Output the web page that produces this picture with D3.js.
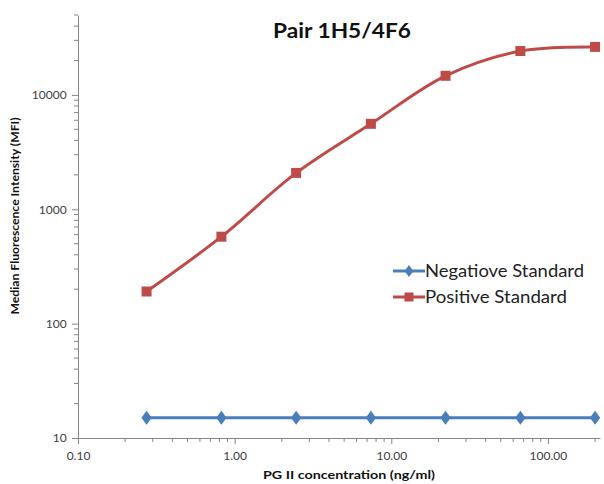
<!DOCTYPE html>
<html><head><meta charset="utf-8">
<script src="https://cdn.jsdelivr.net/npm/d3@7"></script>
<style>body{margin:0;background:#fff}svg{display:block}</style>
</head><body><svg id="c" width="604" height="484"></svg>
<script>
const concentrations = [0.274, 0.823, 2.47, 7.41, 22.2, 66.7, 200];
const negativeStd = [15, 15, 15, 15, 15, 15, 15];
const positiveStd = [191, 576, 2080, 5590, 14700, 24200, 26300];
const seriesNames = ["Negatiove Standard", "Positive Standard"];
const xTickValues = [0.1, 1, 10, 100];
const yTickValues = [10, 100, 1000, 10000];
const title = "Pair 1H5/4F6";
const xLabel = "PG II concentration (ng/ml)";
const yLabel = "Median Fluorescence Intensity (MFI)";

const FONT = "Lato, 'Open Sans', sans-serif";
const svg = d3.select("#c");
const L = 78, R = 600, T = 15, B = 438;
const x = d3.scaleLog().domain([0.1, 215]).range([L, R]);
const y = d3.scaleLog().domain([10, 50000]).range([B, T]);
const axisCol = "#868686", txtCol = "#404040";
const blue = "#4a7ebb", red = "#be4b48";

const xMinor = [], yMinor = [];
[0.1, 1, 10, 100].forEach(d => { for (let k = 2; k <= 9; k++) if (d * k <= 215) xMinor.push(d * k); });
[10, 100, 1000, 10000].forEach(d => { for (let k = 2; k <= 9; k++) if (d * k <= 50000) yMinor.push(d * k); });

const gx = svg.append("g").attr("transform", `translate(0,${B})`);
gx.call(d3.axisBottom(x).tickValues(xTickValues).tickFormat(d3.format(".2f")).tickSize(6).tickSizeOuter(0));
gx.append("g").selectAll("line").data(xMinor).join("line")
  .attr("x1", d => x(d)).attr("x2", d => x(d)).attr("y1", 0).attr("y2", 4).attr("stroke", axisCol);
gx.select(".domain").attr("stroke", axisCol);
gx.selectAll(".tick line").attr("stroke", axisCol);
gx.selectAll(".tick text").attr("fill", txtCol).attr("font-family", FONT).attr("font-size", 12).attr("dy", "1.1em");

const gy = svg.append("g").attr("transform", `translate(${L},0)`);
gy.call(d3.axisLeft(y).tickValues(yTickValues).tickFormat(d3.format("d")).tickSize(6).tickSizeOuter(0));
gy.append("g").selectAll("line").data(yMinor).join("line")
  .attr("x1", 0).attr("x2", -4).attr("y1", d => y(d)).attr("y2", d => y(d)).attr("stroke", axisCol);
gy.select(".domain").attr("stroke", axisCol);
gy.selectAll(".tick line").attr("stroke", axisCol);
gy.selectAll(".tick text").attr("fill", txtCol).attr("font-family", FONT).attr("font-size", 12).attr("dx", "-0.2em");

const neg = concentrations.map((c, i) => [c, negativeStd[i]]);
const pos = concentrations.map((c, i) => [c, positiveStd[i]]);

svg.append("path").datum(neg).attr("fill", "none").attr("stroke", blue).attr("stroke-width", 3)
  .attr("d", d3.line().x(d => x(d[0])).y(d => y(d[1])));
svg.append("path").datum(pos).attr("fill", "none").attr("stroke", red).attr("stroke-width", 3)
  .attr("d", d3.line().curve(d3.curveCatmullRom.alpha(0.5)).x(d => x(d[0])).y(d => y(d[1])));

const diamond = d3.symbol().type(d3.symbolDiamond).size(70);
svg.append("g").selectAll("path").data(neg).join("path")
  .attr("d", diamond).attr("transform", d => `translate(${x(d[0])},${y(d[1])}) scale(1.15,0.9)`).attr("fill", blue);
svg.append("g").selectAll("rect").data(pos).join("rect")
  .attr("x", d => x(d[0]) - 5).attr("y", d => y(d[1]) - 5).attr("width", 10).attr("height", 10).attr("fill", red);

svg.append("text").attr("x", 342).attr("y", 38).attr("text-anchor", "middle")
  .attr("font-family", FONT).attr("font-weight", "bold").attr("font-size", 21).attr("fill", "#111")
  .attr("textLength", 138).attr("lengthAdjust", "spacingAndGlyphs").text(title);
svg.append("text").attr("x", 349).attr("y", 479).attr("text-anchor", "middle")
  .attr("font-family", FONT).attr("font-weight", "bold").attr("font-size", 12).attr("fill", "#111")
  .attr("textLength", 172).attr("lengthAdjust", "spacingAndGlyphs").text(xLabel);
svg.append("text").attr("transform", "translate(19,216) rotate(-90)").attr("text-anchor", "middle")
  .attr("font-family", FONT).attr("font-weight", "bold").attr("font-size", 11).attr("fill", "#111")
  .attr("textLength", 197).attr("lengthAdjust", "spacingAndGlyphs").text(yLabel);

const leg = svg.append("g");
const legY = [271, 297];
const legW = [159, 142];
const colors = [blue, red];
seriesNames.forEach((n, i) => {
  leg.append("line").attr("x1", 393).attr("x2", 425).attr("y1", legY[i]).attr("y2", legY[i]).attr("stroke", colors[i]).attr("stroke-width", 3);
  if (i === 0) leg.append("path").attr("d", d3.symbol().type(d3.symbolDiamond).size(50)).attr("transform", `translate(409,${legY[i]}) scale(1.15,0.9)`).attr("fill", blue);
  else leg.append("rect").attr("x", 404.5).attr("y", legY[i] - 4.5).attr("width", 9).attr("height", 9).attr("fill", red);
  leg.append("text").attr("x", 425).attr("y", legY[i] + 6).attr("font-family", FONT).attr("font-size", 18).attr("fill", "#222")
    .attr("textLength", legW[i]).attr("lengthAdjust", "spacingAndGlyphs").text(n);
});
</script></body></html>
